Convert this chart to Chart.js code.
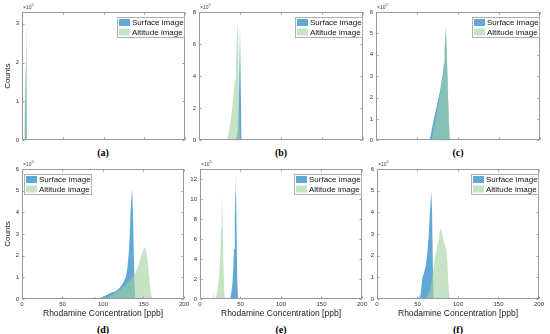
<!DOCTYPE html>
<html>
<head>
<meta charset="utf-8">
<script src="https://cdn.jsdelivr.net/npm/chart.js@4"></script>
<style>
body { margin:0; width:550px; height:334px; background:#fff; position:relative; overflow:hidden; }
canvas { position:absolute; }
.lbl { position:absolute; width:60px; margin-left:-30px; text-align:center; font:bold 10px "Liberation Serif", serif; line-height:12px; color:#000; }
</style>
</head>
<body>
<canvas id="pa" width="191" height="145" style="left:0px;top:2px"></canvas>
<canvas id="pb" width="192" height="145" style="left:177px;top:2px"></canvas>
<canvas id="pc" width="192" height="145" style="left:354px;top:2px"></canvas>
<canvas id="pd" width="191" height="162" style="left:0px;top:159px"></canvas>
<canvas id="pe" width="191" height="162" style="left:178px;top:159px"></canvas>
<canvas id="pf" width="191" height="162" style="left:355px;top:159px"></canvas>
<div class="lbl" style="left:103px;top:147px">(a)</div>
<div class="lbl" style="left:281px;top:147px">(b)</div>
<div class="lbl" style="left:458px;top:147px">(c)</div>
<div class="lbl" style="left:103px;top:324px">(d)</div>
<div class="lbl" style="left:281px;top:324px">(e)</div>
<div class="lbl" style="left:458px;top:324px">(f)</div>
<script>
// histogram outlines, counts in units of 10^5
var seriesNames = ['Surface image', 'Altitude image'];
var xTicks = [0, 50, 100, 150, 200];
var xTitle = 'Rhodamine Concentration [ppb]';
var yTitle = 'Counts';

// (a)
var surfA_x = [3, 4, 4.5, 5, 6];
var surfA_y = [0, 1.95, 0.3, 3.15, 0];
var altA_x = [3, 4, 4.5, 5, 6];
var altA_y = [0, 1.65, 0.2, 2.6, 0];
// (b)
var surfB_x = [45, 47, 48, 49, 50, 50.5, 51, 52];
var surfB_y = [0, 0.5, 1.5, 3.5, 7.0, 7.7, 4.0, 0];
var altB_x = [34, 37, 40, 42, 44, 45, 46, 47, 47.5, 48, 49, 50];
var altB_y = [0, 0.7, 1.8, 2.8, 3.8, 4.8, 6.0, 7.2, 7.6, 6.0, 1.5, 0];
// (c)
var surfC_x = [65, 67, 70, 74, 78, 81, 83, 84, 85, 86, 87, 88, 89, 90];
var surfC_y = [0, 0.3, 0.9, 1.6, 2.3, 3.0, 3.6, 4.5, 5.2, 4.4, 3.2, 1.8, 0.6, 0];
var altC_x = [68, 70, 73, 76, 80, 82, 84, 85, 86, 87, 88, 89, 91];
var altC_y = [0, 0.4, 1.0, 1.7, 2.6, 3.2, 4.6, 5.35, 4.7, 3.4, 2.2, 0.9, 0];
// (d)
var surfD_x = [88, 90, 92, 95, 100, 105, 110, 115, 120, 125, 128, 130, 132, 133, 134, 135, 136, 137, 138, 139, 140];
var surfD_y = [0, 0.1, 0, 0.03, 0.1, 0.2, 0.3, 0.35, 0.5, 0.75, 1.0, 1.4, 2.2, 3.0, 4.0, 4.6, 5.1, 4.0, 2.2, 0.6, 0];
var altD_x = [100, 105, 110, 115, 120, 125, 130, 135, 140, 145, 148, 151, 153, 155, 157, 159, 161];
var altD_y = [0, 0.05, 0.15, 0.25, 0.4, 0.55, 0.75, 0.95, 1.2, 1.7, 2.1, 2.4, 2.3, 1.8, 1.0, 0.3, 0];
// (e)
var surfE_x = [37, 39, 40, 41, 42, 43, 43.5, 44, 45, 46, 47];
var surfE_y = [0, 0.8, 1.5, 3.0, 5.0, 8.0, 10.5, 12.6, 8.0, 2.0, 0];
var altE_x = [16, 17, 18, 20, 22, 24, 25, 26, 26.5, 27, 28, 29, 30, 31];
var altE_y = [0, 0.7, 0, 0.3, 1.0, 2.8, 4.5, 7.0, 9.0, 10.6, 8.0, 3.5, 0.8, 0];
// (f)
var surfF_x = [51, 52, 53, 54, 55, 56, 58, 60, 62, 64, 65, 66, 67, 68, 69, 70];
var surfF_y = [0, 0.2, 0, 0.3, 0.6, 1.0, 1.2, 1.5, 2.1, 3.0, 3.8, 4.4, 5.0, 4.0, 1.5, 0];
var altF_x = [60, 63, 66, 68, 70, 72, 74, 76, 78, 79, 80, 82, 84, 86, 87, 88, 89, 90];
var altF_y = [0, 0.2, 0.5, 1.0, 1.5, 2.0, 2.4, 2.7, 3.2, 3.35, 3.1, 2.7, 2.5, 2.2, 1.6, 0.8, 0.3, 0];

var yMax = [3.3, 8, 6, 6, 13, 6];
var yStep = [1, 2, 1, 1, 2, 1];

var FONT = '"Liberation Sans", Arial, sans-serif';
var blueFill = 'rgba(0,114,189,0.62)';
var greenFill = 'rgba(160,208,160,0.6)';

function pts(xs, ys) {
    return xs.map(function(x, i) { return {x: x, y: ys[i]}; });
}

// axes box with inward ticks on all four sides, plus the x10^5 note
var frame = {
    id: 'frame',
    afterDatasetsDraw: function(chart) {
        var ctx = chart.ctx, a = chart.chartArea;
        var xs = chart.scales.x, ys = chart.scales.y;
        var L = Math.round(a.left) + 0.5, R = Math.round(a.right) - 0.5;
        var T = Math.round(a.top) + 0.5, B = Math.round(a.bottom) - 0.5;
        ctx.save();
        ctx.strokeStyle = '#9a9a9a';
        ctx.lineWidth = 1;
        ctx.strokeRect(L, T, R - L, B - T);
        ctx.beginPath();
        xs.ticks.forEach(function(t) {
            var px = Math.round(xs.getPixelForValue(t.value)) + 0.5;
            ctx.moveTo(px, B); ctx.lineTo(px, B - 2);
            ctx.moveTo(px, T); ctx.lineTo(px, T + 2);
        });
        ys.ticks.forEach(function(t) {
            var py = Math.round(ys.getPixelForValue(t.value)) + 0.5;
            ctx.moveTo(L, py); ctx.lineTo(L + 2, py);
            ctx.moveTo(R, py); ctx.lineTo(R - 2, py);
        });
        ctx.stroke();
        ctx.fillStyle = '#444';
        ctx.textBaseline = 'alphabetic';
        ctx.font = '5px ' + FONT;
        ctx.fillText('\u00d710', a.left + 1, a.top - 3);
        var w = ctx.measureText('\u00d710').width;
        ctx.font = '4px ' + FONT;
        ctx.fillText('5', a.left + 1 + w, a.top - 6);
        ctx.restore();
    }
};

// legend drawn inside the plot area
var boxLegend = {
    id: 'boxLegend',
    afterDatasetsDraw: function(chart, args, opts) {
        var ctx = chart.ctx, a = chart.chartArea;
        var bw = 67, bh = 20;
        var left = opts.side === 'left' ? a.left + 2 : a.right - bw - 1;
        var top = a.top + 5;
        ctx.save();
        ctx.fillStyle = '#fff';
        ctx.fillRect(left, top, bw, bh);
        ctx.strokeStyle = '#b0b0b0';
        ctx.lineWidth = 1;
        ctx.strokeRect(Math.round(left) + 0.5, Math.round(top) + 0.5, bw, bh);
        ctx.font = '8px ' + FONT;
        ctx.textBaseline = 'middle';
        chart.data.datasets.forEach(function(ds, i) {
            var cy = top + 5.5 + i * 9.5;
            ctx.fillStyle = ds.backgroundColor;
            ctx.fillRect(left + 2, cy - 3.5, 11, 7);
            ctx.fillStyle = '#111';
            ctx.fillText(ds.label, left + 15, cy + 0.5);
        });
        ctx.restore();
    }
};

function makePanel(id, sx, sy, ax, ay, k, bottomRow, counts, side) {
    new Chart(document.getElementById(id), {
        type: 'line',
        data: {
            datasets: [
                {label: seriesNames[0], data: pts(sx, sy), backgroundColor: blueFill, borderWidth: 0,
                 fill: 'origin', pointRadius: 0, tension: 0, order: 2},
                {label: seriesNames[1], data: pts(ax, ay), backgroundColor: greenFill, borderWidth: 0,
                 fill: 'origin', pointRadius: 0, tension: 0, order: 1}
            ]
        },
        options: {
            responsive: false,
            animation: false,
            devicePixelRatio: 1,
            layout: {padding: {top: 10, right: 6, left: 0, bottom: bottomRow ? 0 : 4}},
            plugins: {
                legend: {display: false},
                tooltip: {enabled: false},
                boxLegend: {side: side}
            },
            scales: {
                x: {
                    type: 'linear', min: xTicks[0], max: xTicks[xTicks.length - 1],
                    grid: {display: false, drawTicks: false}, border: {display: false},
                    afterBuildTicks: function(s) { s.ticks = xTicks.map(function(v) { return {value: v}; }); },
                    ticks: {display: bottomRow, font: {family: FONT, size: 6}, color: '#333', padding: 2,
                            maxRotation: 0, autoSkip: false},
                    title: {display: bottomRow, text: xTitle, font: {family: FONT, size: 8.5}, color: '#222',
                            padding: {top: 0, bottom: 2}},
                    afterFit: function(s) { s.height = bottomRow ? 22 : 0; }
                },
                y: {
                    type: 'linear', min: 0, max: yMax[k],
                    grid: {display: false, drawTicks: false}, border: {display: false},
                    ticks: {stepSize: yStep[k], includeBounds: false, font: {family: FONT, size: 6},
                            color: '#333', padding: 3},
                    title: {display: counts, text: yTitle, font: {family: FONT, size: 8}, color: '#222',
                            padding: {top: 3, bottom: 0}},
                    afterFit: function(s) { s.width = 22; }
                }
            }
        },
        plugins: [frame, boxLegend]
    });
}

makePanel('pa', surfA_x, surfA_y, altA_x, altA_y, 0, false, true, 'right');
makePanel('pb', surfB_x, surfB_y, altB_x, altB_y, 1, false, false, 'right');
makePanel('pc', surfC_x, surfC_y, altC_x, altC_y, 2, false, false, 'right');
makePanel('pd', surfD_x, surfD_y, altD_x, altD_y, 3, true, true, 'left');
makePanel('pe', surfE_x, surfE_y, altE_x, altE_y, 4, true, false, 'right');
makePanel('pf', surfF_x, surfF_y, altF_x, altF_y, 5, true, false, 'right');
</script>
</body>
</html>
